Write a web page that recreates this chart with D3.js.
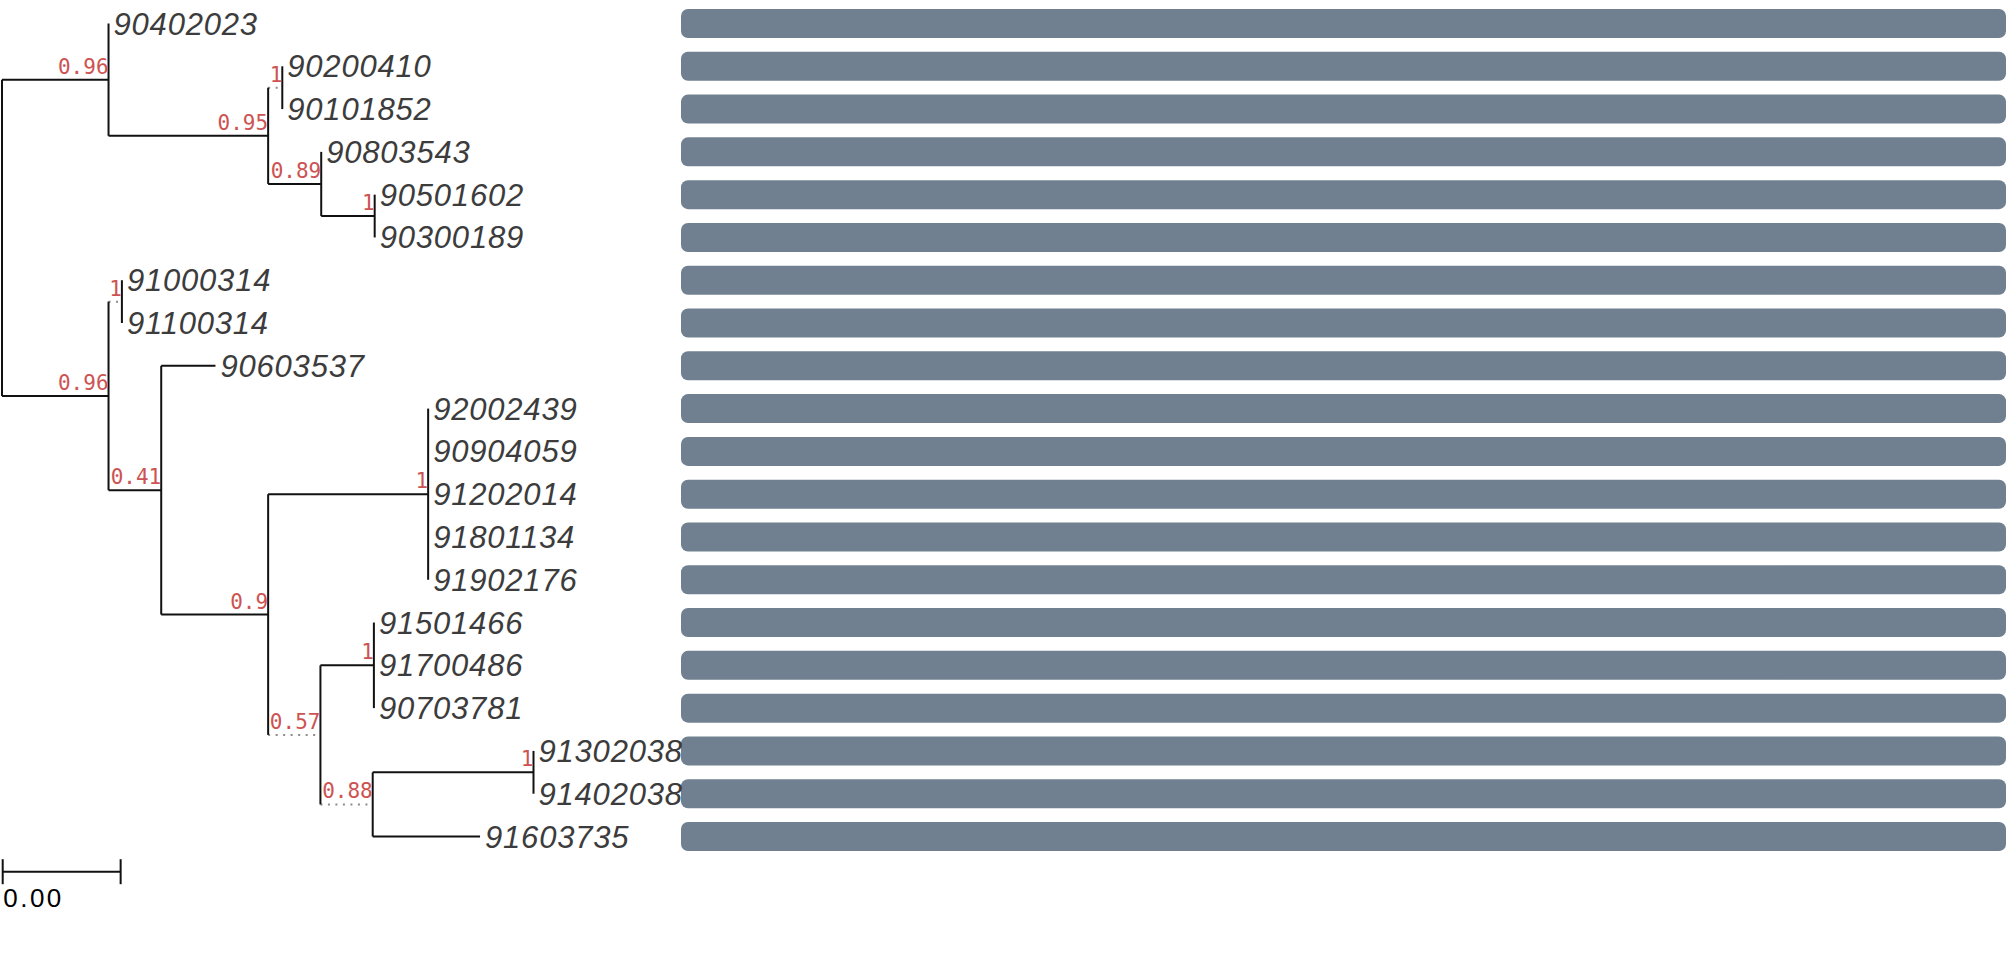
<!DOCTYPE html>
<html>
<head>
<meta charset="utf-8">
<script src="https://cdn.jsdelivr.net/npm/d3@7"></script>
<style>
  body { margin: 0; background: #fff; }
</style>
</head>
<body>
<div id="chart"></div>
<script>
// Tree as a flat table: node, parent, branch length, support
const nodeIds = [
  "n0", "n1", "90402023", "n2", "n3", "90200410", "90101852", "n4", "90803543",
  "n5", "90501602", "90300189", "n6", "n7", "91000314", "91100314", "n8",
  "90603537", "n9", "n10", "92002439", "90904059", "91202014", "91801134",
  "91902176", "n11", "n12", "91501466", "91700486", "90703781", "n13", "n14",
  "91302038", "91402038", "91603735"
];
const parentIds = [
  null, "n0", "n1", "n1", "n2", "n3", "n3", "n2", "n4",
  "n4", "n5", "n5", "n0", "n6", "n7", "n7", "n6",
  "n8", "n8", "n9", "n10", "n10", "n10", "n10",
  "n10", "n9", "n11", "n12", "n12", "n12", "n11", "n13",
  "n14", "n14", "n13"
];
const branchLengths = [
  0, 0.00271, 0, 0.00406, 0.00036, 0, 0, 0.00135, 0,
  0.00136, 0, 0, 0.00271, 0.00034, 0, 0, 0.00134,
  0.00138, 0.00272, 0.00407, 0, 0, 0, 0,
  0, 0.00133, 0.00136, 0, 0, 0, 0.00133, 0.00409,
  0, 0, 0.00273
];
const supportValues = [
  null, 0.96, null, 0.95, 1, null, null, 0.89, null,
  1, null, null, 0.96, 1, null, null, 0.41,
  null, 0.9, 1, null, null, null, null,
  null, 0.57, 1, null, null, null, 0.88, 1,
  null, null, null
];
// branches drawn as grey dotted lines
const dottedBranches = ["n3", "n7", "n11", "n13"];

// one bar per leaf, all full length
const barValues = [1, 1, 1, 1, 1, 1, 1, 1, 1, 1, 1, 1, 1, 1, 1, 1, 1, 1, 1, 1];

const scaleBarValue = 0.003;

const width = 2007, height = 979;

const svg = d3.select("#chart").append("svg")
  .attr("width", width)
  .attr("height", height);

const table = nodeIds.map((id, i) => ({
  id: id, parent: parentIds[i], len: branchLengths[i], support: supportValues[i]
}));

const root = d3.stratify()
  .id(d => d.id)
  .parentId(d => d.parent)(table);

// cumulative distance from the root
root.eachBefore(n => {
  n.depthLen = n.parent ? n.parent.depthLen + n.data.len : 0;
});

const leaves = root.leaves();
const leafNames = leaves.map(d => d.id);

const x = d3.scaleLinear()
  .domain([0, d3.max(root.descendants(), d => d.depthLen)])
  .range([2, 533.5]);

const y = d3.scalePoint()
  .domain(leafNames)
  .range([23.5, 836.5]);

root.eachAfter(n => {
  if (n.children) {
    n.y = (n.children[0].y + n.children[n.children.length - 1].y) / 2;
  } else {
    n.y = y(n.id);
  }
  n.x = x(n.depthLen);
});

// bars on the right
const xBar = d3.scaleLinear().domain([0, 1]).range([681, 2006]);
const barH = 29;

svg.append("g")
  .selectAll("rect")
  .data(leaves)
  .join("rect")
  .attr("x", xBar(0))
  .attr("y", d => d.y - barH / 2)
  .attr("width", (d, i) => xBar(barValues[i]) - xBar(0))
  .attr("height", barH)
  .attr("rx", 7)
  .attr("fill", "#708090");

// horizontal branches
const gTree = svg.append("g");

gTree.selectAll("line.h")
  .data(root.descendants().filter(d => d.parent && d.data.len > 0))
  .join("line")
  .attr("class", "h")
  .attr("x1", d => d.parent.x)
  .attr("x2", d => d.x)
  .attr("y1", d => d.y)
  .attr("y2", d => d.y)
  .attr("stroke", d => dottedBranches.includes(d.id) ? "#8c8c8c" : "#111")
  .attr("stroke-width", 2)
  .attr("stroke-dasharray", d => dottedBranches.includes(d.id) ? "2,5.5" : null);

// vertical connectors
gTree.selectAll("line.v")
  .data(root.descendants().filter(d => d.children))
  .join("line")
  .attr("class", "v")
  .attr("x1", d => d.x)
  .attr("x2", d => d.x)
  .attr("y1", d => d.children[0].y)
  .attr("y2", d => d.children[d.children.length - 1].y)
  .attr("stroke", "#111")
  .attr("stroke-width", 2);

// tip labels
svg.append("g")
  .selectAll("text")
  .data(leaves)
  .join("text")
  .attr("x", d => d.x + 5)
  .attr("y", d => d.y + 11)
  .attr("font-family", "Liberation Sans, Arial, sans-serif")
  .attr("font-style", "italic")
  .attr("font-size", 31)
  .attr("letter-spacing", 0.8)
  .attr("fill", "#3c3c3c")
  .text(d => d.id);

// support values
svg.append("g")
  .selectAll("text")
  .data(root.descendants().filter(d => d.data.support != null))
  .join("text")
  .attr("x", d => d.x)
  .attr("y", d => d.y - 6)
  .attr("text-anchor", "end")
  .attr("font-family", "DejaVu Sans Mono, monospace")
  .attr("font-size", 21)
  .attr("fill", "#cd5353")
  .text(d => d.data.support);

// scale bar
const barLen = x(scaleBarValue) - x(0);
const sb = svg.append("g").attr("transform", "translate(2.7,871.7)");
sb.append("line").attr("x1", 0).attr("x2", barLen)
  .attr("stroke", "#111").attr("stroke-width", 2);
sb.selectAll("line.tick")
  .data([0, barLen])
  .join("line")
  .attr("class", "tick")
  .attr("x1", d => d).attr("x2", d => d)
  .attr("y1", -12.5).attr("y2", 12.5)
  .attr("stroke", "#111").attr("stroke-width", 2);
sb.append("text")
  .attr("x", 0.5)
  .attr("y", 35)
  .attr("font-family", "Liberation Sans, Arial, sans-serif")
  .attr("font-size", 26)
  .attr("letter-spacing", 2.5)
  .attr("fill", "#000")
  .text(d3.format(".2f")(scaleBarValue));
</script>
</body>
</html>
